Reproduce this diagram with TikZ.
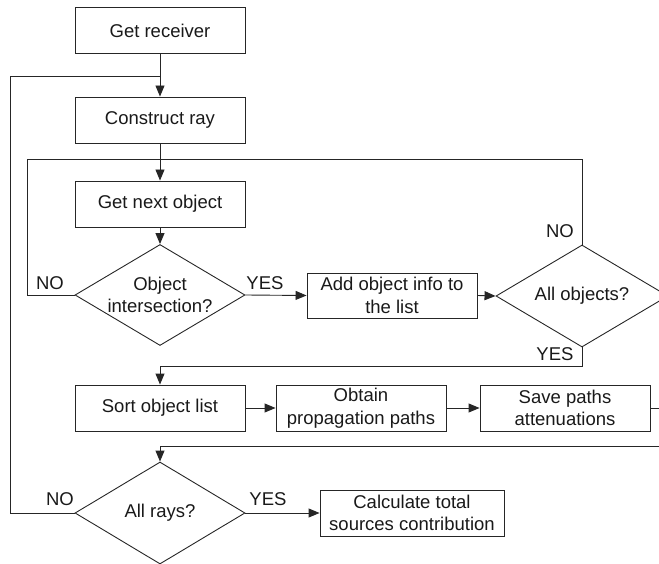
\documentclass[tikz,border=0pt]{standalone}
\usepackage{fontspec}
\setmainfont{Liberation Sans}
\usetikzlibrary{shapes.geometric,arrows.meta}
\tikzset{
  ln/.style={line width=0.9pt, draw=black!85},
  arr/.style={ln, -{Triangle[length=11pt,width=9pt]}},
  box/.style={draw=black!85, line width=0.9pt, minimum width=170pt, minimum height=46pt, inner sep=0pt, align=center, text=black!90},
  dia/.style={draw=black!85, line width=0.9pt, diamond, minimum width=170pt, minimum height=101pt, inner sep=0pt},
  txt/.style={align=center, inner sep=0pt, text=black!90},
  lab/.style={inner sep=0pt, text=black!90}
}
\begin{document}
\begin{tikzpicture}[x=1pt,y=-1pt, font=\fontsize{18.5}{22.5}\selectfont]
\useasboundingbox (0,0) rectangle (659,564);
\clip (0,0) rectangle (659,564);
% boxes
\node[box] (r1) at (160,30.5) {Get receiver};
\node[box] (r2) at (160,120) {Construct ray};
\node[box] (r3) at (160,204) {Get next object};
\node[box, minimum height=45pt] (r4) at (392,295.5) {Add object info to\\the list};
\node[box] (r5) at (160,408) {Sort object list};
\node[box] (r6) at (361,408) {Obtain\\propagation paths};
\node[box] (r7) at (565,408) {Save paths\\attenuations};
\node[box, minimum width=184pt] (r8) at (412,513) {Calculate total\\sources contribution};
% diamonds
\node[dia] (d1) at (160,295) {};
\node[txt] (t1) at (d1) {Object\\intersection?};
\node[dia, minimum width=172pt, minimum height=102pt] (d2) at (582,296) {};
\node[txt] (t2) at (d2) {All objects?};
\node[dia, minimum height=102pt] (d3) at (160,513) {};
\node[txt] (t3) at (d3) {All rays?};
% junction coordinates
\coordinate (j1) at (160,76);
\coordinate (j2) at (160,159);
\coordinate (j3) at (160,366);
\coordinate (j4) at (160,446);
\coordinate (l1) at (10,513);
\coordinate (l2) at (27,295);
\coordinate (e1) at (659,408);
\coordinate (e2) at (659,446);
% connectors
\draw[arr] (r1) -- (r2);
\draw[ln] (d3.west) -- (l1) |- (j1);
\draw[arr] (r2) -- (r3);
\draw[ln] (d1.west) -- (l2) |- (j2);
\draw[ln] (d2.north) |- (j2);
\draw[arr] (r3) -- (d1);
\draw[arr] (d1.east) -- (r4.west);
\draw[arr] (r4.east) -- (d2.west);
\draw[ln] (d2.south) |- (j3);
\draw[arr] (j3) -- (r5.north);
\draw[arr] (r5) -- (r6);
\draw[arr] (r6) -- (r7);
\draw[ln] (r7.east) -- (e1);
\draw[ln] (e2) -- (j4);
\draw[arr] (j4) -- (d3.north);
\draw[arr] (d3.east) -- (r8.west);
% labels
\node[lab] (n1) at (50,283) {NO};
\node[lab] (y1) at (265,283) {YES};
\node[lab] (n2) at (560,231) {NO};
\node[lab] (y2) at (555,354) {YES};
\node[lab] (n3) at (60,499) {NO};
\node[lab] (y3) at (268,499) {YES};
\end{tikzpicture}
\end{document}
